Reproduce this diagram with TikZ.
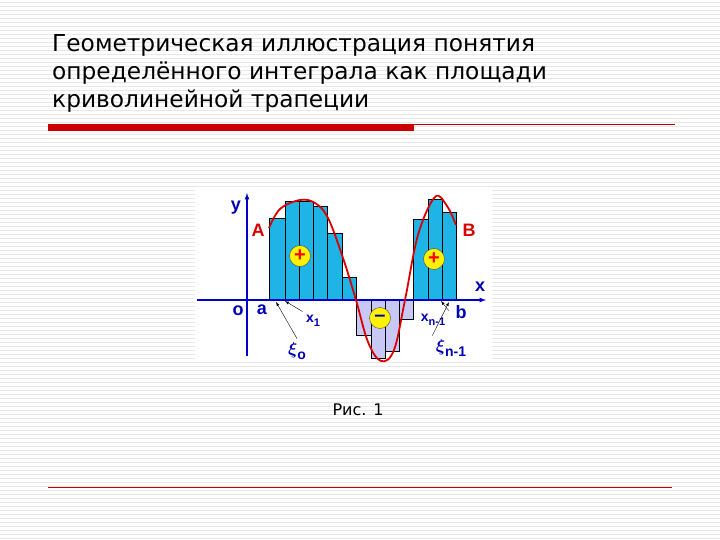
\documentclass[tikz,border=0pt]{standalone}
\usepackage{amsmath}
\usepackage{fontspec}
\setmainfont{DejaVu Sans}
\newfontfamily\lab{Liberation Sans}
\definecolor{barc}{RGB}{30,180,230}
\definecolor{negc}{RGB}{200,200,245}
\definecolor{slred}{RGB}{204,0,0}
\newcommand{\fs}[1]{\fontsize{#1}{#1}\selectfont}
\begin{document}
\begin{tikzpicture}[x=1pt,y=-1pt,
  posbar/.style={fill=barc, draw=black, line width=0.4pt},
  negbar/.style={fill=negc, draw=black, line width=0.4pt},
  sign/.style={circle, fill=yellow, draw=black!70, minimum size=21pt, inner sep=0pt, font=\lab\bfseries\fs{20}},
  bl/.style={text=blue!70!black, font=\lab\bfseries\fs{18}},
  rl/.style={text=red!85!black, font=\lab\bfseries\fs{18}},
  pt/.style={-latex, black, line width=0.4pt}]
\useasboundingbox (0,0) rectangle (720,540);
\fill[white] (0,0) rectangle (720,540);
\foreach \y in {2,6,...,538} \draw[gray!18, line width=0.5pt] (0,\y) -- (720,\y);
\node[anchor=north west, align=left, font=\fontsize{23.3}{28}\selectfont, inner sep=0pt] (title) at (52,34)
 {Геометрическая иллюстрация понятия\\определённого интеграла как площади\\криволинейной трапеции};
\fill[slred] (48,124) rectangle (414,131);
\draw[slred, line width=0.8pt] (414,124) -- (675,124);
\draw[slred, line width=0.8pt] (48,487) -- (672,487);
\fill[white] (195,190) rectangle (492,362);
% bars
\draw[posbar] (269,300) rectangle (285,218.3);
\draw[posbar] (285,300) rectangle (299,201.7);
\draw[posbar] (299,300) rectangle (312.7,201.7);
\draw[posbar] (312.7,300) rectangle (327.3,206.7);
\draw[posbar] (327.3,300) rectangle (341.7,233.3);
\draw[posbar] (341.7,300) rectangle (356,276.7);
\draw[negbar] (356,300) rectangle (370.7,335);
\draw[negbar] (370.7,300) rectangle (385,357.7);
\draw[negbar] (385,300) rectangle (399,351);
\draw[negbar] (399,300) rectangle (413.3,319);
\draw[posbar] (413.3,300) rectangle (427.7,219);
\draw[posbar] (427.7,300) rectangle (441.7,199);
\draw[posbar] (441.7,300) rectangle (456,212.3);
% axes
\draw[blue!80!black, line width=1.2pt, -latex] (197,300) -- (486,300);
\draw[blue!80!black, line width=1.2pt, -latex] (247,356) -- (247,193);
% curve
\draw[red!85!black, line width=1.8pt] plot[smooth, tension=0.6] coordinates {(269,228) (280,209) (300,200) (315,203) (328,218) (343,258) (356,300) (368,342) (381,361) (394,350) (405,300) (418,235) (435,197) (447,206) (456,225)};
\node[sign, text=red] (p1) at (300,256) {+};
\node[sign, text=red] (p2) at (434,259) {+};
\node[sign, text=blue!70!black] (m1) at (380,318) {–};
\node[bl] (ly) at (236,208) {y};
\node[rl] (lA) at (258,230) {A};
\node[rl] (lB) at (469,230) {B};
\node[bl] (lx) at (480,287) {x};
\node[bl] (lo) at (238,311) {o};
\node[bl] (la) at (262,310) {a};
\node[bl] (lb) at (461,312) {b};
\node[bl, font=\lab\bfseries\fs{14}] (lx1) at (313,321) {x\raisebox{-0.6ex}{\fs{11}1}};
\node[bl, font=\lab\bfseries\fs{14}] (lxn) at (433,320) {x\raisebox{-0.6ex}{\fs{11}n-1}};
\node[bl, font=\lab\bfseries\fs{18}] (lxi0) at (297,351) {$\boldsymbol\xi$\raisebox{-0.6ex}{\fs{14}o}};
\node[bl, font=\lab\bfseries\fs{18}] (lxin) at (451,348) {$\boldsymbol\xi$\raisebox{-0.6ex}{\fs{14}n-1}};
\coordinate (t1) at (285,301);
\coordinate (t0) at (276,302);
\coordinate (tn) at (441,301);
\coordinate (tx) at (449,302);
\draw[pt] (lx1.north west) -- (t1);
\draw[pt] (lxi0.north) -- (t0);
\draw[pt] (lxn.north east) -- (tn);
\draw[pt] (lxin.north west) -- (tx);
\node[font=\fontsize{16}{18}\selectfont] (cap) at (358,410) {Рис. 1};
\end{tikzpicture}
\end{document}
